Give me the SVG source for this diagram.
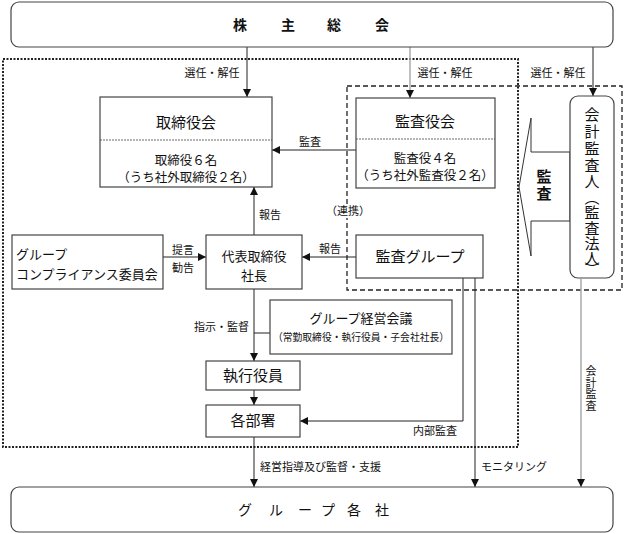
<svg xmlns="http://www.w3.org/2000/svg" width="625" height="534" viewBox="0 0 625 534">
<style>
text{font-family:"Noto Sans CJK JP","Noto Sans",sans-serif;fill:#111}
.box{fill:#fff;stroke:#444;stroke-width:1.2}
.ln{fill:none;stroke:#222;stroke-width:1}
.gl{fill:none;stroke:#aaa;stroke-width:1.5}
.lb{font-size:11px}
.t13{font-size:13px}
.t15{font-size:15px}
.c{text-anchor:middle}
</style>
<defs>
<marker id="ah" viewBox="0 0 8 8" refX="8" refY="4" markerWidth="8" markerHeight="8" markerUnits="userSpaceOnUse" orient="auto">
<path d="M0,0 L8,4 L0,8 Z" fill="#111"/>
</marker>
</defs>
<rect x="0" y="0" width="625" height="534" fill="#fff"/>
<g id="frames">
<rect x="3" y="59" width="515" height="388" fill="none" stroke="#222" stroke-width="2" stroke-dasharray="2 1.5"/>
<rect x="347" y="86" width="275" height="204" fill="none" stroke="#222" stroke-width="1.3" stroke-dasharray="5 3"/>
</g>
<g id="connectors">
<line class="ln" x1="247" y1="47" x2="247" y2="97" marker-end="url(#ah)"/>
<line class="gl" x1="410" y1="47" x2="410" y2="98" marker-end="url(#ah)"/>
<line class="ln" x1="593" y1="47" x2="593" y2="96" marker-end="url(#ah)"/>
<line class="ln" x1="356" y1="150" x2="272" y2="150" marker-end="url(#ah)"/>
<line class="ln" x1="254" y1="235" x2="254" y2="187" marker-end="url(#ah)"/>
<line class="ln" x1="163" y1="257" x2="206" y2="257" marker-end="url(#ah)"/>
<line class="ln" x1="356" y1="257" x2="302" y2="257" marker-end="url(#ah)"/>
<line class="ln" x1="254" y1="289" x2="254" y2="361" marker-end="url(#ah)"/>
<line class="ln" x1="254" y1="333" x2="270" y2="333"/>
<line class="ln" x1="254" y1="390" x2="254" y2="405" marker-end="url(#ah)"/>
<polyline class="ln" points="463,278 463,421 300,421" marker-end="url(#ah)"/>
<line class="ln" x1="475" y1="278" x2="475" y2="487" marker-end="url(#ah)"/>
<line class="ln" x1="254" y1="437" x2="254" y2="487" marker-end="url(#ah)"/>
<line class="gl" x1="581" y1="279" x2="581" y2="487" marker-end="url(#ah)"/>
<polygon points="570,152 531,152 531,118 519,187 531,256 531,221 570,221" fill="#fff" stroke="#333" stroke-width="1"/>
</g>
<g id="labels">
<text class="lb c" x="212" y="77">選任・解任</text>
<text class="lb c" x="445" y="77">選任・解任</text>
<text class="lb c" x="558" y="77">選任・解任</text>
<text class="lb c" x="310" y="146">監査</text>
<text class="lb" x="259" y="219">報告</text>
<text class="lb c" x="330" y="253">報告</text>
<text class="lb c" x="183" y="254">提言</text>
<text class="lb c" x="183" y="272">勧告</text>
<rect x="331" y="204" width="34" height="14" fill="#fff"/>
<text class="lb c" x="348" y="215">（連携）</text>
<text class="lb" x="249" y="331" text-anchor="end">指示・監督</text>
<text class="lb c" x="435" y="435">内部監査</text>
<text class="lb" x="260" y="471">経営指導及び監督・支援</text>
<text class="lb" x="481" y="471">モニタリング</text>
<text class="lb c"><tspan x="591" y="375">会</tspan><tspan x="591" y="386.5">計</tspan><tspan x="591" y="398">監</tspan><tspan x="591" y="409.5">査</tspan></text>
<text class="t15 c" font-weight="bold"><tspan x="544" y="182">監</tspan><tspan x="544" y="199">査</tspan></text>
</g>
<g id="n-shareholders">
<rect class="box" x="11" y="2" width="602" height="45" rx="8"/>
<text class="c" font-size="14" font-weight="bold" x="240 288 334 382" y="30">株主総会</text>
</g>
<g id="n-board">
<rect class="box" x="100" y="97" width="172" height="90"/>
<line x1="100" y1="140" x2="272" y2="140" stroke="#444" stroke-width="0.8" stroke-dasharray="2 1"/>
<text class="t15 c" x="186" y="128">取締役会</text>
<text class="c" font-size="12.5" x="186" y="165">取締役６名</text>
<text class="c" font-size="12.5" x="186" y="182">（うち社外取締役２名）</text>
</g>
<g id="n-auditors">
<rect class="box" x="356" y="98" width="139" height="90"/>
<line x1="356" y1="139" x2="495" y2="139" stroke="#444" stroke-width="0.8" stroke-dasharray="2 1"/>
<text class="t15 c" x="425" y="127">監査役会</text>
<text class="c" font-size="12.5" x="425" y="163">監査役４名</text>
<text class="c" font-size="12.5" x="425" y="180">（うち社外監査役２名）</text>
</g>
<g id="n-accountant">
<rect class="box" x="570" y="96" width="44" height="182" rx="8"/>
<text class="t15 c"><tspan x="592" y="120">会</tspan><tspan x="592" y="137">計</tspan><tspan x="592" y="154">監</tspan><tspan x="592" y="171">査</tspan><tspan x="592" y="187">人</tspan><tspan x="592" y="203">︵</tspan><tspan x="592" y="218">監</tspan><tspan x="592" y="234">査</tspan><tspan x="592" y="249">法</tspan><tspan x="592" y="264">人</tspan><tspan x="592" y="275">︶</tspan></text>
</g>
<g id="n-compliance">
<rect class="box" x="12" y="235" width="151" height="54"/>
<text class="t13" x="16" y="259">グループ</text>
<text class="t13" x="16" y="279">コンプライアンス委員会</text>
</g>
<g id="n-president">
<rect class="box" x="206" y="235" width="96" height="54"/>
<text class="t13 c" x="254" y="261">代表取締役</text>
<text class="t13 c" x="254" y="280">社長</text>
</g>
<g id="n-auditgroup">
<rect class="box" x="356" y="235" width="127" height="43"/>
<text class="t15 c" x="420" y="262">監査グループ</text>
</g>
<g id="n-mgmtmeeting">
<rect class="box" x="270" y="300" width="182" height="54"/>
<text class="t13 c" x="361" y="323">グループ経営会議</text>
<text class="c" font-size="10.5" x="361" y="341" textLength="176" lengthAdjust="spacingAndGlyphs">（常勤取締役・執行役員・子会社社長）</text>
</g>
<g id="n-officers">
<rect class="box" x="206" y="361" width="94" height="29"/>
<text class="t15 c" x="253" y="381">執行役員</text>
</g>
<g id="n-depts">
<rect class="box" x="206" y="405" width="94" height="32"/>
<text class="t15 c" x="253" y="426">各部署</text>
</g>
<g id="n-groupcos">
<rect class="box" x="11" y="487" width="602" height="45" rx="8"/>
<text class="c" font-size="14" x="245 276 305 328 354 382" y="515">グループ各社</text>
</g>
</svg>
